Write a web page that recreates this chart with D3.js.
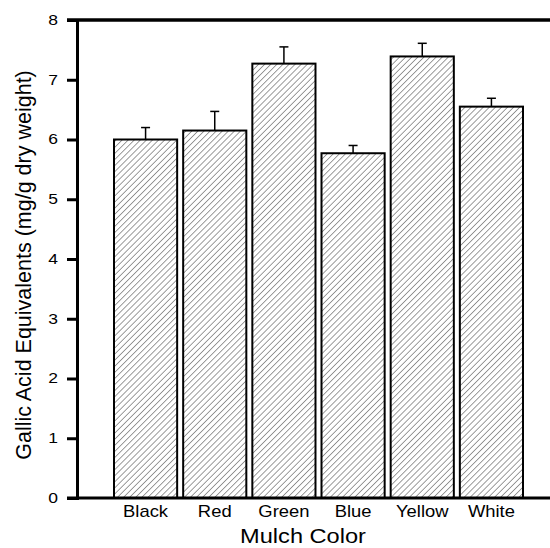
<!DOCTYPE html>
<html><head><meta charset="utf-8">
<script src="https://cdn.jsdelivr.net/npm/d3@7"></script>
<style>body{margin:0;background:#fff}svg{display:block}</style>
</head><body>
<script>
const categories = ["Black","Red","Green","Blue","Yellow","White"];
const values = [6.0, 6.15, 7.27, 5.77, 7.39, 6.55];
const errors = [0.2, 0.32, 0.28, 0.13, 0.22, 0.14];
const yTicks = [0,1,2,3,4,5,6,7,8];

const W = 550, H = 548;
const FONT = "Arial, 'Liberation Sans', sans-serif";
const svg = d3.select("body").append("svg").attr("width", W).attr("height", H);
const x0 = 77, yTop = 20, yBot = 498;
const x = d3.scaleBand().domain(categories).range([114, 523]).paddingInner(0.087).paddingOuter(0);
const y = d3.scaleLinear().domain([0, 8]).range([yBot, yTop]);

const defs = svg.append("defs");
const pat = defs.append("pattern").attr("id","hatch").attr("patternUnits","userSpaceOnUse")
  .attr("width",4.3).attr("height",4.3).attr("patternTransform","rotate(45)");
pat.append("rect").attr("width",4.3).attr("height",4.3).attr("fill","#fff");
pat.append("line").attr("x1",0).attr("y1",0).attr("x2",0).attr("y2",4.3)
  .attr("stroke","#3a3a3a").attr("stroke-width",1);

// bars
svg.selectAll("rect.bar").data(categories).join("rect").attr("class","bar")
  .attr("x", d => x(d)).attr("width", x.bandwidth())
  .attr("y", (d,i) => y(values[i])).attr("height", (d,i) => y(0) - y(values[i]))
  .attr("fill","url(#hatch)").attr("stroke","#000").attr("stroke-width",2);

// error bars
const eb = svg.append("g").attr("stroke","#000").attr("stroke-width",1.5);
categories.forEach((c,i) => {
  const cx = x(c) + x.bandwidth()/2;
  eb.append("line").attr("x1",cx).attr("x2",cx).attr("y1",y(values[i])).attr("y2",y(values[i]+errors[i]));
  eb.append("line").attr("x1",cx-4.5).attr("x2",cx+4.5).attr("y1",y(values[i]+errors[i])).attr("y2",y(values[i]+errors[i]));
});

// y axis
const yAxis = d3.axisLeft(y).tickValues(yTicks).tickSize(10).tickPadding(9).tickFormat(d3.format("d"));
const gy = svg.append("g").attr("transform",`translate(${x0},0)`).call(yAxis);
gy.select(".domain").attr("stroke-width",3);
gy.selectAll(".tick line").attr("stroke-width",3);
gy.selectAll(".tick text").attr("font-family",FONT).attr("font-size",14).attr("fill","#000")
  .attr("x",0).attr("transform","translate(-19,0) scale(1.25,1)");

// top frame line and bottom axis
svg.append("line").attr("x1",67).attr("x2",W).attr("y1",yTop).attr("y2",yTop).attr("stroke","#000").attr("stroke-width",3.5);
const xAxis = d3.axisBottom(x).tickSize(0).tickPadding(8);
const gx = svg.append("g").attr("transform",`translate(0,${yBot})`).call(xAxis);
gx.select(".domain").remove();
svg.append("line").attr("x1",67).attr("x2",W).attr("y1",yBot).attr("y2",yBot).attr("stroke","#000").attr("stroke-width",3);
gx.selectAll(".tick text").attr("font-family",FONT).attr("font-size",16).attr("fill","#000")
  .attr("transform","scale(1.15,1)");

// axis titles
svg.append("text").attr("transform",`translate(31,265) rotate(-90)`)
  .attr("text-anchor","middle").attr("font-family",FONT).attr("font-size",21.5)
  .text("Gallic Acid Equivalents (mg/g dry weight)");
svg.append("text").attr("transform","translate(303,543) scale(1.18,1)").attr("text-anchor","middle")
  .attr("font-family",FONT).attr("font-size",20).text("Mulch Color");
</script>
</body></html>
